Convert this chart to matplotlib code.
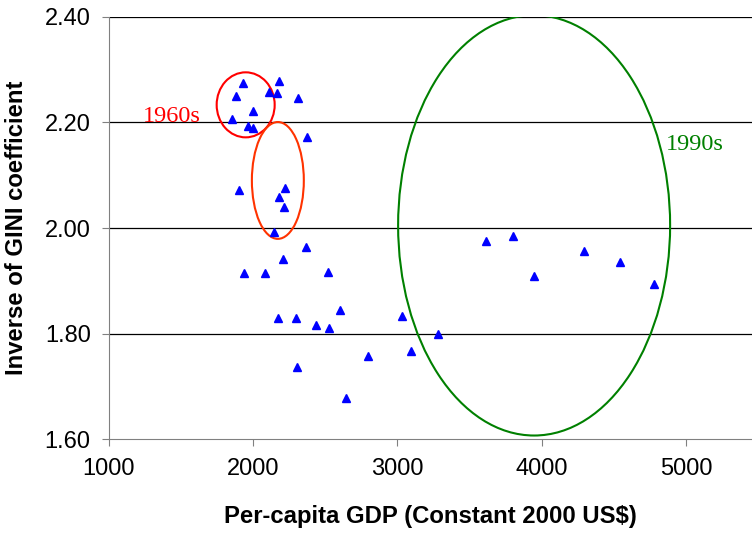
import matplotlib
matplotlib.use("Agg")
import matplotlib.pyplot as plt
from matplotlib.patches import Ellipse

# per-capita GDP (constant 2000 US$) and inverse GINI
gdp = [1933, 2180, 1882, 2113, 2166, 2314, 2002, 1857, 1963, 2000,
       2376, 1905, 2222, 2180, 2213, 2143, 2365, 2206, 1940, 2081,
       2520, 2601, 2173, 2296, 2435, 2527, 3035, 3280, 3093, 2795,
       2307, 2647, 3617, 3800, 3949, 4296, 4543, 4777]
inv_gini = [2.275, 2.279, 2.250, 2.257, 2.255, 2.246, 2.222, 2.206, 2.193, 2.189,
            2.173, 2.071, 2.076, 2.059, 2.039, 1.993, 1.964, 1.942, 1.915, 1.915,
            1.916, 1.845, 1.830, 1.829, 1.816, 1.811, 1.833, 1.799, 1.767, 1.757,
            1.737, 1.679, 1.976, 1.984, 1.909, 1.957, 1.935, 1.895]

# highlighted groups: (center x, center y, width, height)
circle_60s = (1949, 2.233, 402, 0.123)
oval_mid = (2172, 2.090, 360, 0.221)
oval_90s = (3948, 2.005, 1885, 0.795)

yticks = [1.60, 1.80, 2.00, 2.20, 2.40]
xticks = [1000, 2000, 3000, 4000, 5000]

plt.rcParams["font.family"] = ["Liberation Sans", "DejaVu Sans"]

fig = plt.figure(figsize=(7.52, 5.34), dpi=100)
ax = fig.add_axes([0.1446, 0.177, 0.8554, 0.792])

for y in yticks[1:]:
    ax.axhline(y, color="black", lw=0.9, zorder=1)

ax.plot(gdp, inv_gini, ls="", marker="^", ms=5.5, color="#0000FF",
        mec="#0000FF", zorder=3)

for (cx, cy, w, h), col in [(circle_60s, "#FF0000"), (oval_mid, "#FF3300"),
                            (oval_90s, "#008000")]:
    ax.add_patch(Ellipse((cx, cy), w, h, fill=False, ec=col, lw=1.5, zorder=2))

serif = ["Liberation Serif", "DejaVu Serif"]
ax.text(1238, 2.201, "1960s", color="#FF0000", fontsize=17.5, family=serif,
        ha="left", va="baseline")
ax.text(4862, 2.148, "1990s", color="#008000", fontsize=17.5, family=serif,
        ha="left", va="baseline")

ax.set_xlim(1000, 5458)
ax.set_ylim(1.60, 2.40)
ax.set_xticks(xticks)
ax.set_yticks(yticks)
ax.set_yticklabels([f"{v:.2f}" for v in yticks])
ax.tick_params(labelsize=17, direction="out", length=5, color="#808080", pad=8)
for s in ["top", "right"]:
    ax.spines[s].set_visible(False)
for s in ["left", "bottom"]:
    ax.spines[s].set_color("#808080")
ax.set_xlabel("Per-capita GDP (Constant 2000 US$)", fontsize=17.2,
              fontweight="bold", labelpad=18)
ax.set_ylabel("Inverse of GINI coefficient", fontsize=17.2,
              fontweight="bold", labelpad=12)

fig.savefig("out.png", dpi=100)
